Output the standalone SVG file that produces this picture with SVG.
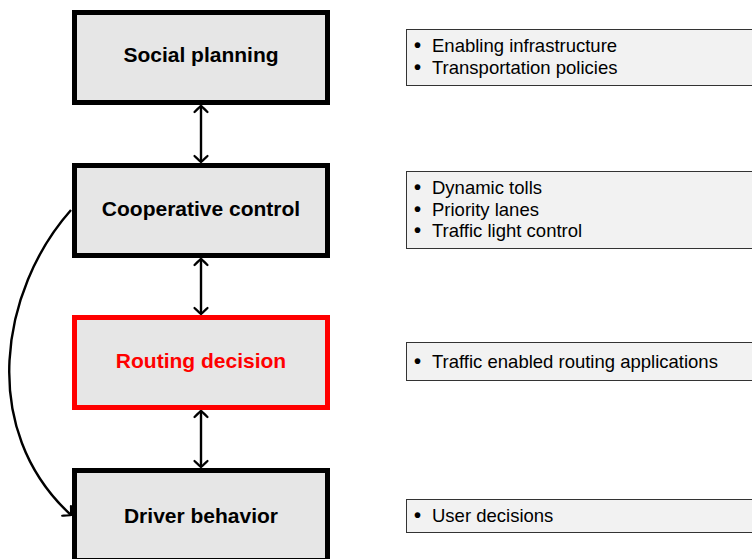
<svg xmlns="http://www.w3.org/2000/svg" width="752" height="559" viewBox="0 0 752 559">
<style>
.node rect{fill:#e6e6e6;stroke:#000;stroke-width:5}
.node text{font-family:"Liberation Sans",Arial,sans-serif;font-weight:bold;font-size:21px;text-anchor:middle;fill:#000}
#routing rect{stroke:#ff0000}
#routing text{fill:#ff0000}
.note rect{fill:#f2f2f2;stroke:#333;stroke-width:1}
.note text{font-family:"Liberation Sans",Arial,sans-serif;font-size:18.5px;fill:#000}
.b{font-size:20px;font-weight:bold}
.conn{fill:none;stroke:#000;stroke-width:2.4}
</style>
<defs>
<marker id="tip" markerUnits="userSpaceOnUse" viewBox="-9 -9 11 18" refX="0" refY="0" markerWidth="11" markerHeight="18" orient="auto-start-reverse">
<path d="M-6,-6.5 C-2.8,-3.2 -0.9,-1.3 0,0 C-0.9,1.3 -2.8,3.2 -6,6.5" fill="none" stroke="#000" stroke-width="2.2" stroke-linecap="round"/>
</marker>
</defs>
<g id="connectors">
<line class="conn" x1="201" y1="106" x2="201" y2="162" marker-start="url(#tip)" marker-end="url(#tip)"/>
<line class="conn" x1="201" y1="259" x2="201" y2="314" marker-start="url(#tip)" marker-end="url(#tip)"/>
<line class="conn" x1="201" y1="411" x2="201" y2="467" marker-start="url(#tip)" marker-end="url(#tip)"/>
<path class="conn" d="M71,210 C0,290 -22,430 71,515" marker-end="url(#tip)"/>
</g>
<g id="social" class="node">
<rect x="74.5" y="12.5" width="253" height="90"/>
<text x="201" y="62">Social planning</text>
</g>
<g id="cooperative" class="node">
<rect x="74.5" y="165.5" width="253" height="90"/>
<text x="201" y="216">Cooperative control</text>
</g>
<g id="routing" class="node">
<rect x="74.5" y="317.5" width="253" height="90"/>
<text x="201" y="368">Routing decision</text>
</g>
<g id="driver" class="node">
<rect x="74.5" y="470.5" width="253" height="90"/>
<text x="201" y="523">Driver behavior</text>
</g>
<g id="note-social" class="note">
<rect x="406.5" y="29.5" width="360" height="56"/>
<text x="414" y="52"><tspan class="b">•</tspan><tspan x="432">Enabling infrastructure</tspan></text>
<text x="414" y="73.5"><tspan class="b">•</tspan><tspan x="432">Transportation policies</tspan></text>
</g>
<g id="note-cooperative" class="note">
<rect x="406.5" y="171.5" width="360" height="77"/>
<text x="414" y="194"><tspan class="b">•</tspan><tspan x="432">Dynamic tolls</tspan></text>
<text x="414" y="215.5"><tspan class="b">•</tspan><tspan x="432">Priority lanes</tspan></text>
<text x="414" y="237"><tspan class="b">•</tspan><tspan x="432">Traffic light control</tspan></text>
</g>
<g id="note-routing" class="note">
<rect x="406.5" y="342.5" width="360" height="38"/>
<text x="414" y="368"><tspan class="b">•</tspan><tspan x="432">Traffic enabled routing applications</tspan></text>
</g>
<g id="note-driver" class="note">
<rect x="406.5" y="499.5" width="360" height="33"/>
<text x="414" y="522"><tspan class="b">•</tspan><tspan x="432">User decisions</tspan></text>
</g>
</svg>
